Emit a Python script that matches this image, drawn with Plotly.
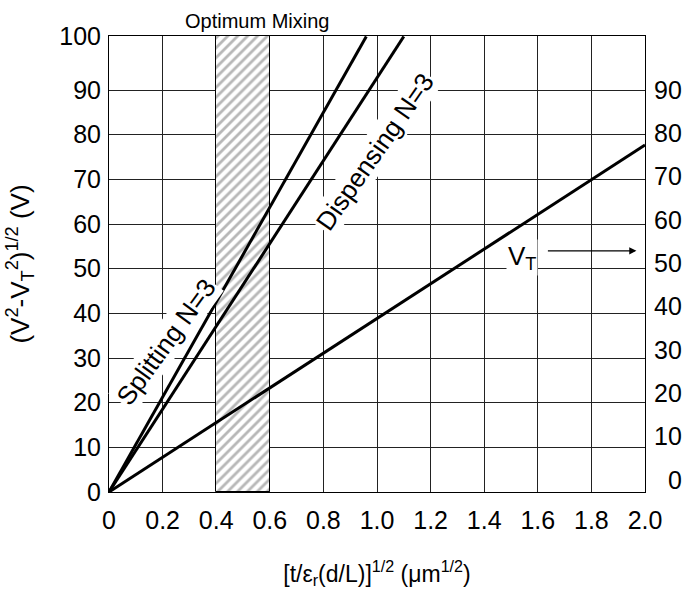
import plotly.graph_objects as go

# ---- data ----
X_TICKS = [0, 0.2, 0.4, 0.6, 0.8, 1.0, 1.2, 1.4, 1.6, 1.8, 2.0]
X_TICK_TEXT = ["0", "0.2", "0.4", "0.6", "0.8", "1.0", "1.2", "1.4", "1.6", "1.8", "2.0"]
Y_TOP = 102.1                      # top frame of the chart (labelled "100")
Y_TICKS = [0, 10, 20, 30, 40, 50, 60, 70, 80, 90, Y_TOP]
Y_TICK_TEXT = ["0", "10", "20", "30", "40", "50", "60", "70", "80", "90", "100"]
Y2_TICKS = [0, 10, 20, 30, 40, 50, 60, 70, 80, 90]
Y2_TICK_TEXT = ["\u00a0\u00a00", "10", "20", "30", "40", "50", "60", "70", "80", "90"]

split_x = [0, 0.96]
split_y = [0, 102.0]
disp_x = [0, 1.10]
disp_y = [0, 102.0]
vt_x = [0, 2.0]
vt_y = [0, 77.7]
optimum_range = [0.4, 0.6]

FONT = "Liberation Sans, Arial, sans-serif"

fig = go.Figure()

# hatched optimum mixing band
fig.add_trace(go.Bar(
    x=[(optimum_range[0] + optimum_range[1]) / 2], y=[Y_TOP],
    width=[optimum_range[1] - optimum_range[0]],
    marker=dict(color="white", line=dict(color="black", width=1),
                pattern=dict(shape="/", fgcolor="#707070", bgcolor="white",
                             size=7, solidity=0.4)),
    hoverinfo="skip", showlegend=False))

for xs, ys in [(split_x, split_y), (disp_x, disp_y), (vt_x, vt_y)]:
    fig.add_trace(go.Scatter(x=xs, y=ys, mode="lines",
                             line=dict(color="black", width=3),
                             hoverinfo="skip", showlegend=False))

# dummy trace so the right axis is drawn
fig.add_trace(go.Scatter(x=[0], y=[0], yaxis="y2", mode="markers",
                         marker=dict(opacity=0), hoverinfo="skip",
                         showlegend=False))

ann_font = dict(family=FONT, size=26, color="black")
fig.update_layout(
    width=684, height=596,
    margin=dict(l=109, r=39, t=36, b=104, autoexpand=False),
    paper_bgcolor="white", plot_bgcolor="white",
    font=dict(family=FONT, color="black"),
    bargap=0,
    xaxis=dict(range=[0, 2.0], tickvals=X_TICKS, ticktext=X_TICK_TEXT,
               showgrid=True, gridcolor="#222", gridwidth=1,
               showline=True, mirror=True, linecolor="black", linewidth=1,
               zeroline=False, ticks="", tickfont=dict(size=25),
               ticklabelstandoff=6, automargin=False,
               title=dict(text="[t/ε<sub>r</sub>(d/L)]<sup>1/2</sup> (μm<sup>1/2</sup>)",
                          font=dict(size=23), standoff=32)),
    yaxis=dict(range=[0, Y_TOP], tickvals=Y_TICKS, ticktext=Y_TICK_TEXT,
               showgrid=True, gridcolor="#222", gridwidth=1,
               showline=True, mirror=True, linecolor="black", linewidth=1,
               zeroline=False, ticks="", tickfont=dict(size=25),
               ticklabelstandoff=2, automargin=False,
               title=dict(text="(V<sup>2</sup>-V<sub>T</sub><sup>2</sup>)<sup>1/2</sup> (V)",
                          font=dict(size=26), standoff=22)),
    yaxis2=dict(overlaying="y", side="right", range=[-2.77, 102.46],
                tickvals=Y2_TICKS, ticktext=Y2_TICK_TEXT, automargin=False,
                showgrid=False, zeroline=False, showline=False, ticks="",
                tickfont=dict(size=25), ticklabelstandoff=8),
    annotations=[
        dict(text="Optimum Mixing", x=0.553, y=1.033, xref="x", yref="paper",
             showarrow=False, font=dict(family=FONT, size=20), yanchor="middle"),
        dict(text="Splitting N=3", x=0.213, y=33.6, xref="x", yref="y",
             showarrow=False, textangle=-54, font=ann_font, bgcolor="white"),
        dict(text="Dispensing N=3", x=0.992, y=76.1, xref="x", yref="y",
             showarrow=False, textangle=-55, font=ann_font, bgcolor="white"),
        dict(text="V<sub>T</sub>", x=1.54, y=52.4, xref="x", yref="y",
             showarrow=False, font=ann_font, bgcolor="white"),
        dict(text="", x=1.968, y=54.0, ax=1.632, ay=54.0,
             xref="x", yref="y", axref="x", ayref="y",
             showarrow=True, arrowhead=2, arrowsize=1.2, arrowwidth=1.2,
             arrowcolor="black"),
    ],
)

fig.write_html("out.html")
